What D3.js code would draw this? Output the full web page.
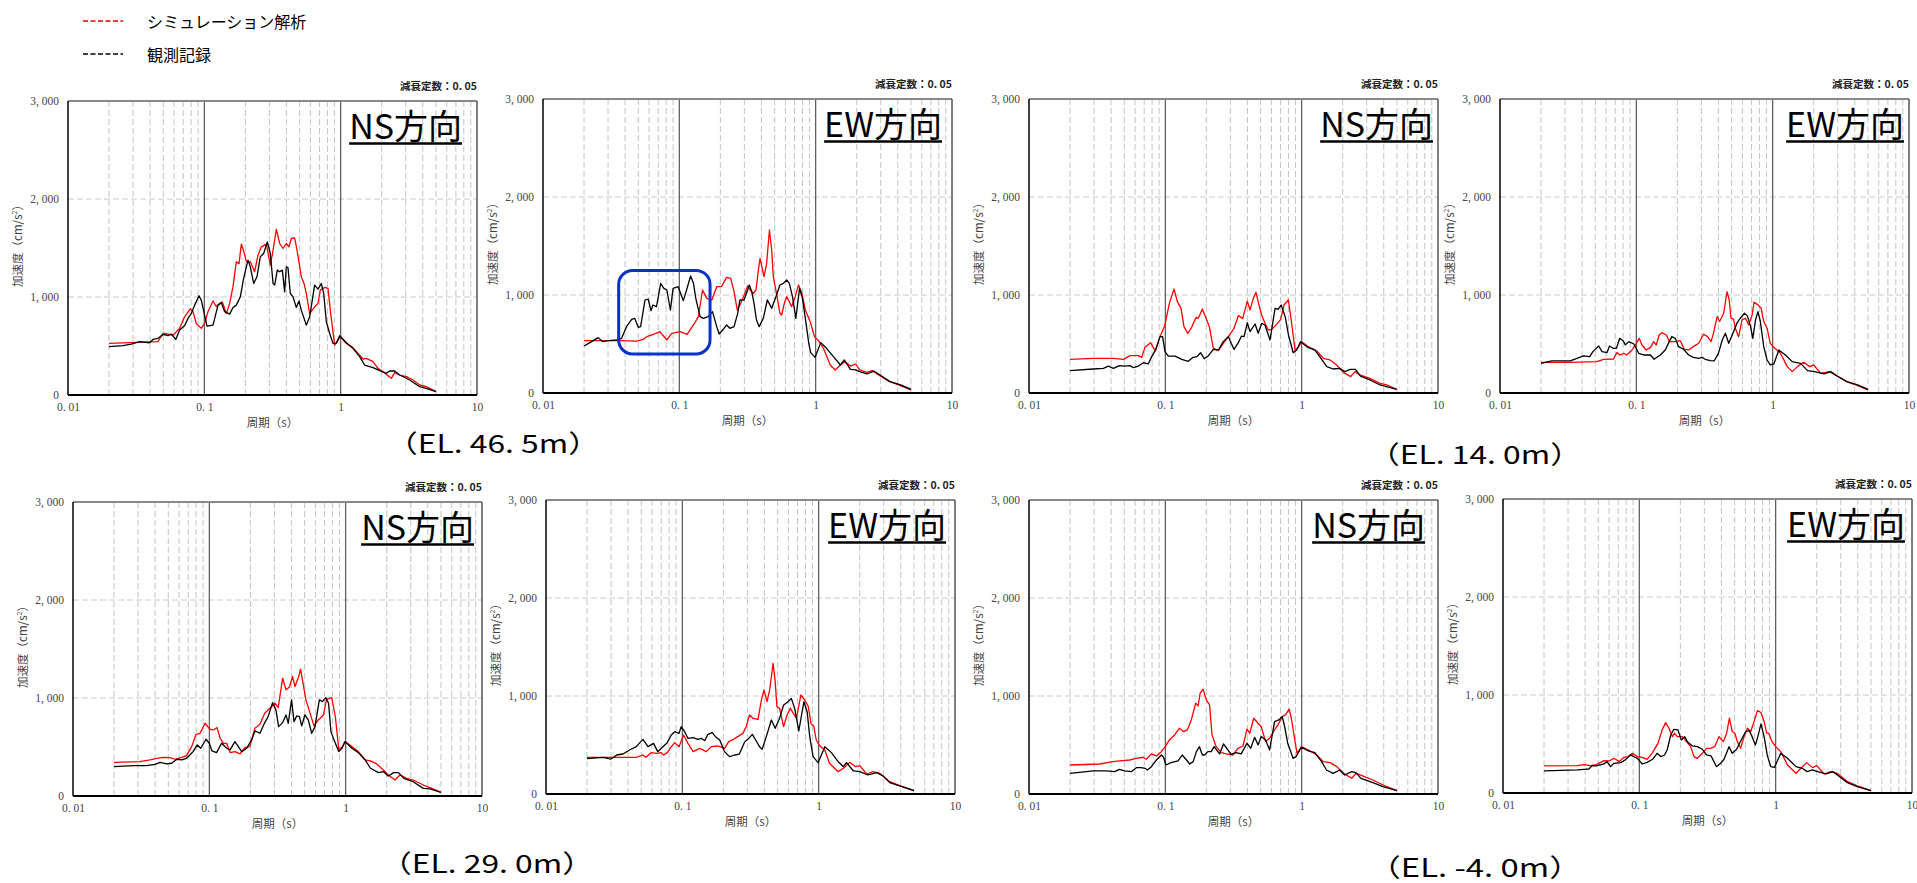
<!DOCTYPE html>
<html>
<head>
<meta charset="utf-8">
<title>加速度応答スペクトル比較</title>
<style>
  body { margin: 0; background: #fff; }
  svg { display: block; }
</style>
</head>
<body>
<svg id="chart"></svg>
<script src="https://d3js.org/d3.v7.min.js"></script>
<script>
// ---- data: [period (s), acceleration (cm/s2)] ----
const sim465NS = [[0.02,527],[0.0457,545],[0.0498,630],[0.0589,610],[0.0659,680],[0.0718,800],[0.0789,880],[0.0826,850],[0.0873,730],[0.095,680],[0.1005,730],[0.1063,850],[0.1158,960],[0.1225,900],[0.1296,935],[0.1356,950],[0.145,830],[0.1534,935],[0.1623,1105],[0.1717,1360],[0.1796,1340],[0.1868,1540],[0.1953,1460],[0.2032,1360],[0.2174,1360],[0.2338,1257],[0.2475,1427],[0.2618,1512],[0.2851,1540],[0.3048,1325],[0.3191,1475],[0.3375,1690],[0.357,1546],[0.3776,1495],[0.3993,1546],[0.4177,1512],[0.4346,1597],[0.4598,1604],[0.4809,1460],[0.5143,1206],[0.5383,1138],[0.5598,1036],[0.5925,830],[0.6442,900],[0.6818,935],[0.7092,1070],[0.7634,1097],[0.8076,1087],[0.8448,830],[0.9036,510],[0.9559,560],[0.9945,595],[1.1,527],[1.231,483],[1.34,425],[1.458,367],[1.542,374],[1.726,340],[1.878,272],[2.044,238],[2.353,170],[2.489,228],[2.709,204],[3.034,187],[3.394,153],[3.797,102],[4.247,85],[5.0,34]];
const obs465NS = [[0.02,493],[0.0253,503],[0.0291,520],[0.0336,544],[0.0397,533],[0.042,567],[0.0457,578],[0.0498,618],[0.0541,605],[0.0573,622],[0.0617,567],[0.0659,663],[0.0718,710],[0.0759,782],[0.0803,832],[0.0849,917],[0.0914,1013],[0.095,968],[0.1023,765],[0.1046,703],[0.1158,713],[0.126,917],[0.1333,940],[0.141,850],[0.1534,825],[0.1623,893],[0.1717,917],[0.1837,1002],[0.1942,1190],[0.209,1376],[0.2174,1308],[0.23,1138],[0.2432,1206],[0.2574,1410],[0.2723,1444],[0.2898,1563],[0.3048,1444],[0.3191,1138],[0.3282,1121],[0.3428,1274],[0.357,1257],[0.3734,1274],[0.3883,1053],[0.3993,1308],[0.4106,1301],[0.4274,1036],[0.447,1002],[0.4729,893],[0.4946,958],[0.5143,866],[0.5598,713],[0.5925,798],[0.6442,1121],[0.6818,1080],[0.7217,1138],[0.7507,1036],[0.7852,747],[0.8306,628],[0.8786,527],[0.9294,527],[0.9833,605],[1.1,533],[1.231,476],[1.378,391],[1.499,306],[1.726,279],[1.932,248],[2.162,221],[2.287,245],[2.489,245],[2.709,204],[3.209,153],[3.797,85],[4.247,68],[5.0,34]];

const sim465EW = [[0.02,534],[0.0367,534],[0.0486,530],[0.0544,547],[0.0577,575],[0.0645,598],[0.072,626],[0.0755,592],[0.081,541],[0.088,609],[0.101,626],[0.114,598],[0.127,694],[0.138,779],[0.148,1051],[0.159,966],[0.173,949],[0.188,1085],[0.204,1085],[0.222,1180],[0.238,1170],[0.252,1034],[0.266,847],[0.282,915],[0.303,1017],[0.317,1092],[0.330,1051],[0.349,1017],[0.365,1051],[0.380,1255],[0.391,1374],[0.418,1187],[0.437,1323],[0.458,1663],[0.476,1459],[0.489,1187],[0.517,1010],[0.547,813],[0.563,796],[0.589,915],[0.613,983],[0.641,932],[0.667,881],[0.707,983],[0.749,1102],[0.793,1017],[0.840,847],[0.890,762],[0.92,711],[0.98,575],[1.05,534],[1.14,456],[1.28,286],[1.39,235],[1.52,286],[1.64,320],[1.80,275],[1.96,296],[2.1,235],[2.38,211],[2.6,228],[2.97,173],[3.5,116],[4.2,75],[5.0,31]];
const obs465EW = [[0.02,480],[0.0221,514],[0.0254,565],[0.0274,524],[0.0302,534],[0.0348,541],[0.0377,558],[0.041,677],[0.0447,752],[0.047,762],[0.050,670],[0.052,677],[0.056,949],[0.059,959],[0.062,840],[0.064,898],[0.068,881],[0.073,1119],[0.077,1068],[0.081,1051],[0.086,847],[0.090,1068],[0.098,1085],[0.107,942],[0.113,1051],[0.121,1194],[0.127,1119],[0.132,966],[0.142,779],[0.150,762],[0.163,779],[0.175,830],[0.188,677],[0.196,602],[0.210,650],[0.222,694],[0.235,660],[0.252,677],[0.268,813],[0.278,949],[0.298,949],[0.311,1017],[0.326,1102],[0.340,1034],[0.353,915],[0.368,745],[0.385,677],[0.413,762],[0.442,949],[0.476,864],[0.511,983],[0.547,1102],[0.579,1119],[0.613,1153],[0.641,1119],[0.676,983],[0.715,762],[0.762,1068],[0.800,966],[0.850,711],[0.890,507],[0.92,412],[0.99,364],[1.09,514],[1.20,456],[1.35,371],[1.52,286],[1.62,337],[1.80,241],[1.96,235],[2.1,218],[2.38,194],[2.67,224],[2.97,184],[3.5,116],[4.2,82],[5.0,37]];

const sim140NS = [[0.02,343],[0.0296,354],[0.0416,354],[0.0492,343],[0.0551,381],[0.0634,381],[0.0671,364],[0.0709,466],[0.078,513],[0.084,432],[0.0914,575],[0.0994,694],[0.107,915],[0.1158,1061],[0.1225,932],[0.1303,864],[0.137,677],[0.1458,609],[0.156,670],[0.168,772],[0.1746,762],[0.1868,857],[0.1988,762],[0.2102,677],[0.2249,456],[0.2447,432],[0.2663,507],[0.2898,575],[0.3189,660],[0.343,789],[0.3693,762],[0.3995,938],[0.4178,847],[0.4422,966],[0.4624,1027],[0.4893,881],[0.5089,796],[0.5383,711],[0.5695,643],[0.6026,650],[0.6556,700],[0.7016,751],[0.7421,898],[0.7986,949],[0.8448,711],[0.8937,439],[0.9454,466],[1.0,524],[1.119,473],[1.288,428],[1.442,354],[1.614,337],[1.806,286],[2.021,211],[2.287,167],[2.46,218],[2.677,184],[3.17,150],[3.755,99],[4.202,82],[4.97,37]];
const obs140NS = [[0.02,228],[0.0296,245],[0.0351,252],[0.0382,275],[0.0416,252],[0.046,279],[0.0506,275],[0.0551,279],[0.0583,258],[0.0634,275],[0.069,309],[0.075,296],[0.0794,371],[0.0854,445],[0.0914,575],[0.0955,575],[0.0994,422],[0.1052,377],[0.118,377],[0.132,343],[0.147,323],[0.16,364],[0.171,371],[0.181,411],[0.193,350],[0.206,377],[0.225,445],[0.245,439],[0.266,524],[0.29,575],[0.319,445],[0.343,513],[0.362,581],[0.378,575],[0.3995,717],[0.418,626],[0.455,704],[0.48,609],[0.509,711],[0.538,694],[0.586,541],[0.638,864],[0.672,853],[0.707,898],[0.757,779],[0.80,592],[0.867,411],[0.92,439],[0.98,524],[1.12,462],[1.25,439],[1.41,337],[1.53,269],[1.70,245],[1.90,252],[2.07,218],[2.27,241],[2.48,241],[2.7,173],[3.17,133],[3.755,82],[4.97,37]];

const sim140EW = [[0.02,313],[0.0328,313],[0.0514,320],[0.0576,344],[0.068,347],[0.072,412],[0.076,388],[0.081,405],[0.085,388],[0.093,439],[0.1,507],[0.105,558],[0.110,490],[0.118,439],[0.127,466],[0.134,524],[0.140,490],[0.147,592],[0.154,616],[0.166,592],[0.175,524],[0.193,524],[0.210,534],[0.225,446],[0.242,439],[0.262,473],[0.287,507],[0.311,599],[0.333,575],[0.353,524],[0.368,609],[0.391,780],[0.408,729],[0.437,814],[0.463,1035],[0.480,950],[0.494,763],[0.517,753],[0.532,661],[0.563,575],[0.596,746],[0.631,763],[0.667,695],[0.707,797],[0.73,926],[0.78,899],[0.823,865],[0.86,729],[0.91,661],[0.96,507],[1.02,466],[1.14,405],[1.28,269],[1.39,218],[1.52,269],[1.69,313],[1.87,269],[2.0,286],[2.25,201],[2.6,218],[2.97,174],[3.5,116],[4.2,75],[5.0,31]];
const obs140EW = [[0.02,303],[0.024,327],[0.0328,327],[0.041,378],[0.0455,371],[0.048,422],[0.053,480],[0.056,422],[0.061,412],[0.0635,480],[0.0675,456],[0.0715,456],[0.0755,558],[0.080,534],[0.083,490],[0.088,524],[0.096,500],[0.104,405],[0.113,388],[0.127,388],[0.135,344],[0.150,388],[0.163,439],[0.173,514],[0.182,575],[0.193,558],[0.204,473],[0.222,446],[0.242,388],[0.262,364],[0.287,354],[0.303,364],[0.32,344],[0.349,330],[0.372,327],[0.40,405],[0.427,541],[0.450,609],[0.476,507],[0.517,627],[0.547,712],[0.579,763],[0.621,814],[0.652,787],[0.687,684],[0.715,558],[0.749,746],[0.78,831],[0.81,739],[0.86,473],[0.91,337],[0.96,286],[1.02,296],[1.11,439],[1.24,388],[1.39,320],[1.596,303],[1.69,269],[1.80,228],[2.03,218],[2.38,194],[2.67,218],[2.97,174],[3.5,116],[4.2,82],[5.0,37]];

const sim290NS = [[0.02,344],[0.031,351],[0.0367,368],[0.041,385],[0.0459,395],[0.0514,392],[0.056,375],[0.0627,395],[0.068,412],[0.0742,504],[0.0799,630],[0.0855,640],[0.093,742],[0.101,681],[0.107,674],[0.114,698],[0.120,589],[0.127,538],[0.134,538],[0.142,443],[0.154,453],[0.168,429],[0.182,494],[0.198,504],[0.216,691],[0.235,732],[0.255,844],[0.278,896],[0.303,947],[0.32,902],[0.345,1202],[0.365,1083],[0.386,1110],[0.408,1219],[0.425,1117],[0.45,1212],[0.467,1294],[0.489,1134],[0.511,981],[0.547,851],[0.585,715],[0.63,776],[0.687,827],[0.724,987],[0.79,1004],[0.84,810],[0.89,477],[0.94,497],[0.99,555],[1.11,504],[1.24,453],[1.39,368],[1.52,358],[1.69,327],[1.89,266],[2.05,215],[2.3,163],[2.5,215],[2.8,180],[3.13,163],[3.71,112],[4.16,85],[5.0,37]];
const obs290NS = [[0.02,300],[0.0277,310],[0.0347,310],[0.040,323],[0.0435,344],[0.0486,327],[0.0529,334],[0.0577,375],[0.0627,368],[0.068,385],[0.072,419],[0.076,453],[0.0815,521],[0.0864,487],[0.0946,579],[0.1,538],[0.1046,460],[0.113,443],[0.123,538],[0.134,487],[0.142,470],[0.154,555],[0.173,453],[0.188,487],[0.204,572],[0.216,664],[0.235,640],[0.255,749],[0.270,810],[0.291,953],[0.308,878],[0.322,708],[0.345,749],[0.365,827],[0.379,742],[0.401,981],[0.418,759],[0.437,817],[0.458,810],[0.476,715],[0.502,827],[0.532,776],[0.563,640],[0.596,708],[0.641,981],[0.676,964],[0.715,1004],[0.749,947],[0.78,657],[0.83,555],[0.89,453],[0.94,487],[0.99,555],[1.11,487],[1.24,443],[1.39,368],[1.52,283],[1.74,238],[1.89,249],[2.05,204],[2.25,238],[2.44,238],[2.67,180],[3.13,146],[3.71,78],[4.16,72],[5.0,37]];

const sim290EW = [[0.02,374],[0.031,374],[0.0459,374],[0.0514,398],[0.054,374],[0.059,422],[0.0645,415],[0.070,422],[0.073,398],[0.0775,422],[0.083,483],[0.088,524],[0.0946,483],[0.102,602],[0.110,517],[0.120,432],[0.134,466],[0.150,432],[0.163,483],[0.182,490],[0.204,466],[0.219,534],[0.238,558],[0.255,585],[0.278,619],[0.294,687],[0.311,806],[0.330,772],[0.359,762],[0.380,959],[0.397,1061],[0.418,942],[0.437,1061],[0.463,1333],[0.479,1163],[0.494,891],[0.517,874],[0.553,687],[0.586,806],[0.621,874],[0.652,823],[0.687,772],[0.74,1010],[0.79,959],[0.84,891],[0.88,714],[0.92,694],[0.96,551],[1.02,490],[1.11,449],[1.20,313],[1.39,228],[1.52,262],[1.69,323],[1.87,279],[2.0,289],[2.25,204],[2.5,228],[2.8,211],[3.32,126],[3.93,85],[5.0,34]];
const obs290EW = [[0.02,361],[0.0262,374],[0.03,357],[0.033,398],[0.0367,408],[0.041,449],[0.0459,483],[0.0514,558],[0.056,483],[0.0615,517],[0.066,432],[0.072,483],[0.0775,524],[0.083,602],[0.088,636],[0.0946,619],[0.098,687],[0.104,636],[0.110,568],[0.120,575],[0.130,558],[0.138,568],[0.146,544],[0.154,609],[0.166,626],[0.175,585],[0.188,551],[0.204,432],[0.222,381],[0.242,398],[0.262,408],[0.287,534],[0.303,558],[0.326,609],[0.345,551],[0.368,483],[0.385,456],[0.413,585],[0.450,755],[0.480,670],[0.517,772],[0.553,908],[0.596,942],[0.63,976],[0.667,874],[0.715,643],[0.749,806],[0.78,942],[0.823,840],[0.86,585],[0.91,381],[0.99,320],[1.11,483],[1.24,422],[1.39,330],[1.52,279],[1.6,320],[1.8,235],[2.0,228],[2.3,194],[2.67,218],[2.97,184],[3.32,116],[3.93,82],[5.0,34]];

const simM40NS = [[0.02,296],[0.033,306],[0.0413,330],[0.0484,341],[0.0547,347],[0.0613,364],[0.0686,375],[0.0725,354],[0.079,409],[0.086,388],[0.0935,432],[0.1,483],[0.107,552],[0.117,603],[0.127,671],[0.136,637],[0.145,654],[0.155,756],[0.167,926],[0.174,899],[0.180,1028],[0.189,1069],[0.2,960],[0.211,909],[0.22,603],[0.236,483],[0.257,422],[0.28,409],[0.313,398],[0.341,466],[0.371,490],[0.397,661],[0.416,620],[0.445,773],[0.479,722],[0.505,688],[0.544,535],[0.582,569],[0.62,637],[0.67,705],[0.72,790],[0.76,807],[0.81,865],[0.84,773],[0.89,552],[0.925,415],[0.995,483],[1.12,449],[1.29,398],[1.44,330],[1.62,320],[1.81,279],[2.03,211],[2.33,160],[2.5,211],[2.8,184],[3.33,143],[3.95,92],[5.0,34]];
const obsM40NS = [[0.02,211],[0.0295,235],[0.0369,235],[0.0425,228],[0.046,252],[0.0503,235],[0.0563,228],[0.0613,269],[0.0664,269],[0.071,262],[0.074,245],[0.079,279],[0.086,347],[0.0935,398],[0.097,375],[0.101,296],[0.110,320],[0.124,337],[0.133,398],[0.143,347],[0.151,306],[0.16,330],[0.169,432],[0.178,483],[0.187,398],[0.194,398],[0.205,432],[0.217,432],[0.228,483],[0.25,409],[0.267,511],[0.288,449],[0.304,405],[0.33,422],[0.36,409],[0.397,518],[0.423,466],[0.452,579],[0.479,501],[0.505,586],[0.544,552],[0.582,449],[0.633,739],[0.68,756],[0.72,790],[0.75,688],[0.79,518],[0.865,364],[0.91,381],[0.995,477],[1.12,439],[1.25,422],[1.40,330],[1.52,245],[1.7,211],[1.9,245],[2.07,194],[2.33,228],[2.5,218],[2.72,160],[3.33,116],[3.95,75],[5.0,34]];

const simM40EW = [[0.02,276],[0.0351,279],[0.0393,289],[0.0438,279],[0.0483,289],[0.055,330],[0.06,327],[0.0652,354],[0.0713,320],[0.077,364],[0.0826,371],[0.089,405],[0.0968,371],[0.105,364],[0.114,344],[0.125,412],[0.137,507],[0.147,644],[0.156,718],[0.165,661],[0.175,575],[0.181,610],[0.19,575],[0.206,575],[0.222,524],[0.238,473],[0.252,371],[0.266,354],[0.29,405],[0.311,456],[0.333,456],[0.357,473],[0.384,575],[0.413,524],[0.437,610],[0.458,763],[0.48,627],[0.502,610],[0.524,524],[0.553,456],[0.586,575],[0.621,661],[0.656,627],[0.695,729],[0.735,841],[0.78,821],[0.823,729],[0.86,610],[0.89,610],[0.94,524],[1.0,473],[1.09,422],[1.22,286],[1.41,201],[1.53,252],[1.69,310],[1.86,259],[2.0,279],[2.27,194],[2.53,218],[2.83,201],[3.36,116],[3.97,72],[5.0,24]];
const obsM40EW = [[0.02,225],[0.0351,235],[0.0393,242],[0.0427,245],[0.045,279],[0.0483,276],[0.055,296],[0.058,320],[0.0615,269],[0.0652,303],[0.073,310],[0.0785,337],[0.086,388],[0.091,371],[0.0968,354],[0.105,296],[0.114,313],[0.125,344],[0.135,405],[0.144,371],[0.153,388],[0.160,439],[0.17,592],[0.179,650],[0.192,644],[0.203,541],[0.215,575],[0.225,524],[0.245,480],[0.266,473],[0.29,446],[0.311,388],[0.336,378],[0.368,269],[0.395,303],[0.418,344],[0.455,473],[0.48,405],[0.517,446],[0.559,541],[0.603,627],[0.638,637],[0.672,575],[0.71,490],[0.74,575],[0.78,705],[0.823,575],[0.867,388],[0.92,269],[0.98,262],[1.09,405],[1.22,354],[1.41,269],[1.57,252],[1.7,218],[1.86,235],[2.03,218],[2.34,194],[2.63,218],[2.9,174],[3.36,106],[3.97,65],[5.0,24]];

// labels / ticks
const elevations = ["（EL. 46. 5m）", "（EL. 14. 0m）", "（EL. 29. 0m）", "（EL. -4. 0m）"];
const directions = ["NS方向", "EW方向"];
const seriesNames = ["シミュレーション解析", "観測記録"];
const xTicks = [0.01, 0.1, 1, 10];
const xTickLabels = ["0. 01", "0. 1", "1", "10"];
const yTicks = [0, 1000, 2000, 3000];
const yTickLabels = ["0", "1, 000", "2, 000", "3, 000"];
const dampingText = "減衰定数：0. 05";
// region highlighted with the blue box (EL. 46.5m, EW)
const boxPeriods = [0.0359, 0.168];
const boxAccel = [398, 1251];

// ---- layout ----
const width = 1917, height = 883;
const W = 409, H = 294;
const panels = [
  {left: 68,   top: 101, dir: 0, sim: sim465NS, obs: obs465NS, inset: 15},
  {left: 543,  top: 99,  dir: 1, sim: sim465EW, obs: obs465EW, inset: 10, box: true},
  {left: 1029, top: 99,  dir: 0, sim: sim140NS, obs: obs140NS, inset: 5},
  {left: 1500, top: 99,  dir: 1, sim: sim140EW, obs: obs140EW, inset: 5},
  {left: 73,   top: 502, dir: 0, sim: sim290NS, obs: obs290NS, inset: 8},
  {left: 546,  top: 500, dir: 1, sim: sim290EW, obs: obs290EW, inset: 9},
  {left: 1029, top: 500, dir: 0, sim: simM40NS, obs: obsM40NS, inset: 13},
  {left: 1503, top: 499, dir: 1, sim: simM40EW, obs: obsM40EW, inset: 7}
];
const elevPos = [[386, 453], [1368, 464], [380, 873], [1368, 877]];

const serif = "'Liberation Serif', 'DejaVu Serif', serif";
const jp = "'Noto Sans CJK JP', sans-serif";

const svg = d3.select("#chart")
  .attr("width", width)
  .attr("height", height)
  .style("background", "#fff");

// legend
const legend = svg.append("g");
[["#ff0000", 21], ["#000000", 54]].forEach(function(d, i) {
  legend.append("line")
    .attr("x1", 83).attr("x2", 123)
    .attr("y1", d[1]).attr("y2", d[1])
    .attr("stroke", d[0])
    .attr("stroke-width", 1.6)
    .attr("stroke-dasharray", "5,2.5");
  legend.append("text")
    .attr("x", 147).attr("y", d[1] + 7)
    .attr("font-family", jp)
    .attr("font-size", 16)
    .text(seriesNames[i]);
});

// minor vertical grid periods
const minorTicks = [];
[0.01, 0.1, 1].forEach(function(dec) {
  for (let k = 2; k <= 9; k++) minorTicks.push(dec * k);
});

panels.forEach(function(p) {
  const g = svg.append("g")
    .attr("transform", "translate(" + p.left + "," + p.top + ")");

  const x = d3.scaleLog().domain([0.01, 10]).range([0, W]);
  const y = d3.scaleLinear().domain([0, 3000]).range([H, 0]);

  // grid
  g.append("g").selectAll("line")
    .data(minorTicks)
    .join("line")
    .attr("x1", d => x(d)).attr("x2", d => x(d))
    .attr("y1", 0).attr("y2", H)
    .attr("stroke", "#c4c4c4")
    .attr("stroke-width", 1)
    .attr("stroke-dasharray", "6,3");

  g.append("g").selectAll("line")
    .data([1000, 2000])
    .join("line")
    .attr("x1", 0).attr("x2", W)
    .attr("y1", d => y(d)).attr("y2", d => y(d))
    .attr("stroke", "#c8c8c8")
    .attr("stroke-width", 1)
    .attr("stroke-dasharray", "6,3");

  g.append("g").selectAll("line")
    .data([0.1, 1])
    .join("line")
    .attr("x1", d => x(d)).attr("x2", d => x(d))
    .attr("y1", 0).attr("y2", H)
    .attr("stroke", "#555")
    .attr("stroke-width", 1.2);

  // curves
  const line = d3.line().x(d => x(d[0])).y(d => y(d[1]));
  g.append("path").datum(p.sim)
    .attr("d", line)
    .attr("fill", "none")
    .attr("stroke", "#ff0000")
    .attr("stroke-width", 1.3)
    .attr("stroke-linejoin", "round");
  g.append("path").datum(p.obs)
    .attr("d", line)
    .attr("fill", "none")
    .attr("stroke", "#000")
    .attr("stroke-width", 1.3)
    .attr("stroke-linejoin", "round");

  // frame
  g.append("line").attr("x1", 0).attr("x2", W).attr("y1", 0).attr("y2", 0)
    .attr("stroke", "#888").attr("stroke-width", 2);
  g.append("line").attr("x1", W).attr("x2", W).attr("y1", 0).attr("y2", H)
    .attr("stroke", "#555").attr("stroke-width", 1.5);
  g.append("line").attr("x1", 0).attr("x2", 0).attr("y1", 0).attr("y2", H)
    .attr("stroke", "#000").attr("stroke-width", 1.5);
  g.append("line").attr("x1", 0).attr("x2", W).attr("y1", H).attr("y2", H)
    .attr("stroke", "#000").attr("stroke-width", 2);

  // axes
  const xAxis = g.append("g")
    .attr("transform", "translate(0," + H + ")")
    .call(d3.axisBottom(x).tickValues(xTicks)
      .tickFormat((d, i) => xTickLabels[i])
      .tickSize(0).tickPadding(8));
  const yAxis = g.append("g")
    .call(d3.axisLeft(y).tickValues(yTicks)
      .tickFormat((d, i) => yTickLabels[i])
      .tickSize(0).tickPadding(9));
  [xAxis, yAxis].forEach(function(a) {
    a.select(".domain").remove();
    a.attr("font-family", serif).attr("font-size", 11.5);
    a.selectAll("text").attr("fill", "#444");
  });

  // axis titles
  g.append("text")
    .attr("x", W / 2).attr("y", H + 32)
    .attr("text-anchor", "middle")
    .attr("font-family", jp).attr("font-size", 11.5)
    .attr("fill", "#444")
    .text("周期（s）");

  const yl = g.append("text")
    .attr("transform", "translate(-46," + (H / 2 - 5) + ") rotate(-90)")
    .attr("text-anchor", "middle")
    .attr("font-family", jp).attr("font-size", 11.5)
    .attr("fill", "#444");
  yl.append("tspan").text("加速度（cm/s");
  yl.append("tspan").attr("baseline-shift", "super").attr("font-size", 7).text("2");
  yl.append("tspan").text("）");

  // damping note
  g.append("text")
    .attr("x", W).attr("y", -11)
    .attr("text-anchor", "end")
    .attr("font-family", jp).attr("font-size", 10.5)
    .attr("font-weight", "bold")
    .attr("fill", "#222")
    .text(dampingText);

  // direction title with underline
  const title = g.append("text")
    .attr("x", W - p.inset).attr("y", 38)
    .attr("text-anchor", "end")
    .attr("font-family", jp).attr("font-size", 34)
    .attr("fill", "#000")
    .text(directions[p.dir]);
  const tw = title.node().getComputedTextLength();
  g.append("line")
    .attr("x1", W - p.inset - tw).attr("x2", W - p.inset)
    .attr("y1", 42.5).attr("y2", 42.5)
    .attr("stroke", "#000").attr("stroke-width", 2.5);

  if (p.box) {
    g.append("rect")
      .attr("x", x(boxPeriods[0]))
      .attr("y", y(boxAccel[1]))
      .attr("width", x(boxPeriods[1]) - x(boxPeriods[0]))
      .attr("height", y(boxAccel[0]) - y(boxAccel[1]))
      .attr("rx", 14).attr("ry", 14)
      .attr("fill", "none")
      .attr("stroke", "#0a32c8")
      .attr("stroke-width", 3);
  }
});

// elevation labels
elevations.forEach(function(t, i) {
  svg.append("text")
    .attr("x", elevPos[i][0]).attr("y", elevPos[i][1])
    .attr("font-family", jp).attr("font-size", 25)
    .attr("textLength", 214)
    .attr("lengthAdjust", "spacingAndGlyphs")
    .text(t);
});
</script>
</body>
</html>
